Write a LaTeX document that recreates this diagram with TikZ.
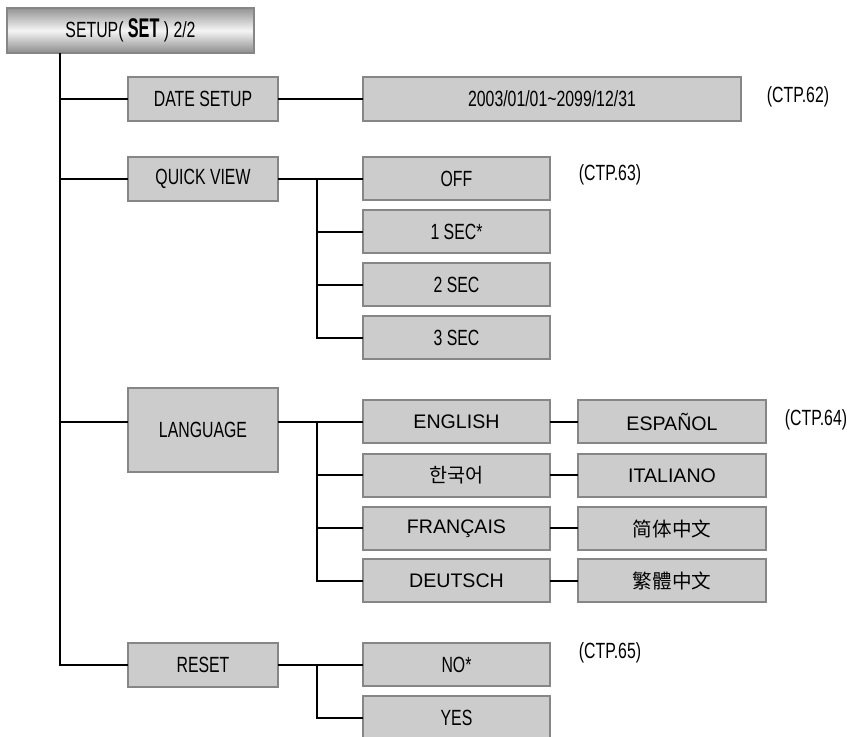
\documentclass[tikz,border=0pt]{standalone}
\usepackage{fontspec}
\setmainfont{Liberation Sans}
\newfontfamily\narrowfont[FakeStretch=0.72]{Liberation Sans}
\newfontfamily\setfont[FakeStretch=0.6]{Liberation Sans}
\newfontfamily\krfont{Noto Sans CJK KR}
\newfontfamily\zhfont{Noto Sans CJK SC}
\usetikzlibrary{calc}
\definecolor{boxfill}{HTML}{CCCCCC}
\definecolor{boxline}{HTML}{868686}

\begin{document}
\begin{tikzpicture}[x=0.5pt, y=-0.5pt,
  box/.style={draw=boxline, line width=1pt, fill=boxfill, inner sep=0pt, outer sep=0pt,
    minimum height=22pt, font=\fontsize{9.8}{11}\selectfont},
  narrowbox/.style={box, font=\narrowfont\fontsize{11}{12}\selectfont},
  wire/.style={line width=1pt},
  pageref/.style={font=\narrowfont\fontsize{11}{12}\selectfont}]
  \clip (0,0) rectangle (847,737);
  % title bar
  \node[narrowbox, top color=black!42, bottom color=black!45, middle color=black!4,
    minimum width=123.5pt, minimum height=22.5pt] (title) at (130.5,30.5)
    {SETUP( {\setfont\bfseries\fontsize{13.5}{12}\selectfont SET} ) 2/2};
  % first level
  \node[narrowbox, minimum width=75pt] (date)  at (203,99)  {DATE SETUP};
  \node[narrowbox, minimum width=75pt] (quick) at (203,179) {QUICK VIEW};
  \node[narrowbox, minimum width=75pt, minimum height=42pt] (lang) at (203,430) {LANGUAGE};
  \node[narrowbox, minimum width=75pt] (reset) at (203,665) {RESET};
  % second level
  \node[narrowbox, minimum width=189pt] (range) at (552,99) {2003/01/01\textasciitilde2099/12/31};
  \foreach \n/\t [count=\i from 0] in {off/OFF, sec1/1 SEC*, sec2/2 SEC, sec3/3 SEC}
    \node[narrowbox, minimum width=93.5pt, minimum height=21.5pt] (\n) at (456.5,179+53*\i) {\t};
  \node[box, minimum width=93.5pt, minimum height=21.5pt] (eng) at (456.5,422)   {ENGLISH};
  \node[box, minimum width=93.5pt, minimum height=21.5pt] (kor) at (456.5,475.5) {\krfont 한국어};
  \node[box, minimum width=93.5pt, minimum height=21.5pt] (fra) at (456.5,528.5) {FRANÇAIS};
  \node[box, minimum width=93.5pt, minimum height=21.5pt] (deu) at (456.5,581)   {DEUTSCH};
  \node[narrowbox, minimum width=93.5pt, minimum height=21.5pt] (no)  at (456.5,665) {NO*};
  \node[narrowbox, minimum width=93.5pt, minimum height=21.5pt] (yes) at (456.5,718) {YES};
  % third level
  \node[box, minimum width=94pt, minimum height=21.5pt] (esp) at (672,422)   {ESPAÑOL};
  \node[box, minimum width=94pt, minimum height=21.5pt] (ita) at (672,475.5) {ITALIANO};
  \node[box, minimum width=94pt, minimum height=21.5pt] (zhs) at (672,528.5) {\zhfont 简体中文};
  \node[box, minimum width=94pt, minimum height=21.5pt] (zht) at (672,581)   {\zhfont 繁體中文};
  % page references
  \node[pageref] (ref62) at (798,97)  {(CTP.62)};
  \node[pageref] (ref63) at (610,175) {(CTP.63)};
  \node[pageref] (ref64) at (816,420) {(CTP.64)};
  \node[pageref] (ref65) at (610,653) {(CTP.65)};
  % trunk
  \coordinate (trunk) at ($(title.south west)+(53,0)$);
  \draw[wire] (trunk) |- (reset.west);
  \foreach \n in {date,quick}
    \draw[wire] (trunk |- \n.west) -- (\n.west);
  \draw[wire] (trunk |- eng.west) -- (lang.west |- eng.west);
  % branches
  \draw[wire] (date) -- (range);
  \coordinate (qfork) at ($(quick.east)+(39,0)$);
  \draw[wire] (quick.east) -- (off.west);
  \draw[wire] (qfork) |- (sec3.west);
  \foreach \n in {sec1,sec2}
    \draw[wire] (qfork |- \n.west) -- (\n.west);
  \coordinate (lfork) at ($(lang.east |- eng.west)+(39,0)$);
  \draw[wire] (lang.east |- eng.west) -- (eng.west);
  \draw[wire] (lfork) |- (deu.west);
  \foreach \n in {kor,fra}
    \draw[wire] (lfork |- \n.west) -- (\n.west);
  \foreach \a/\b in {eng/esp,kor/ita,fra/zhs,deu/zht}
    \draw[wire] (\a) -- (\b);
  \coordinate (rfork) at ($(reset.east)+(39,0)$);
  \draw[wire] (reset) -- (no);
  \draw[wire] (rfork) |- (yes.west);
\end{tikzpicture}
\end{document}
